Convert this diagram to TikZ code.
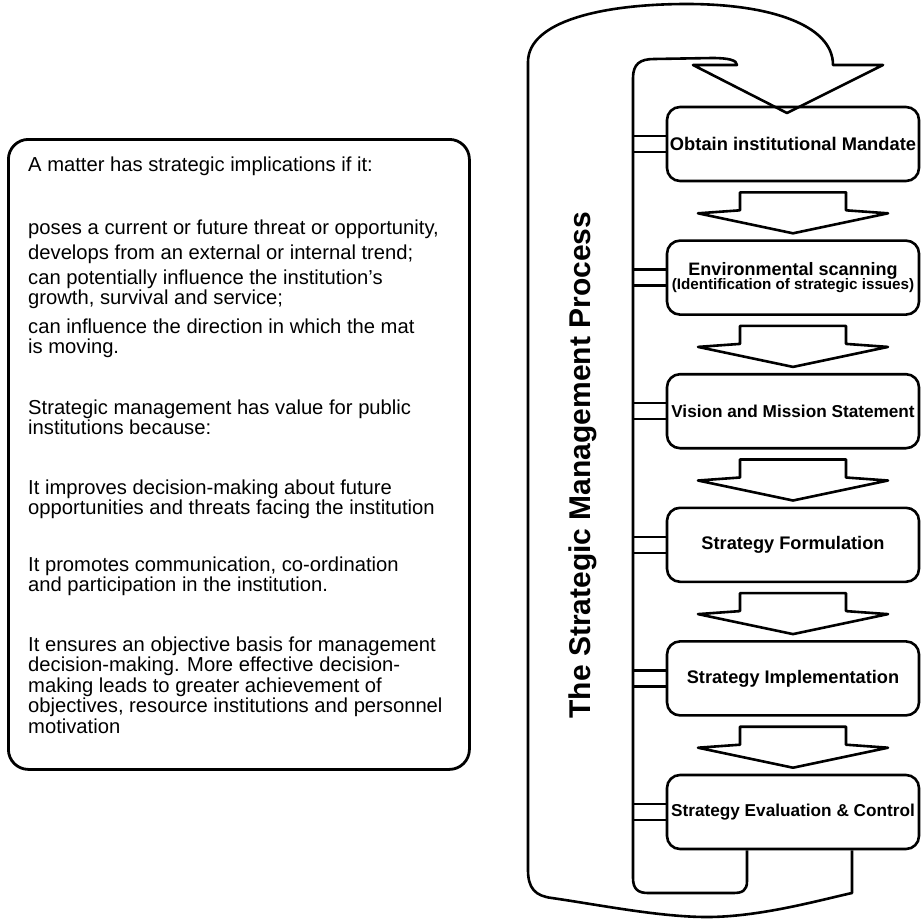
\documentclass[tikz,border=0pt]{standalone}
\usepackage{fontspec}
\setmainfont{Liberation Sans}
\usetikzlibrary{calc}
\newcommand\tightlines{\lineskiplimit=-20pt\relax}
\newcommand\stepsize[1]{\fontsize{#1}{14}\selectfont}
\begin{document}
\begin{tikzpicture}[x=1pt,y=-1pt,line join=round,
  outline/.style={line width=2.6pt},
  stub/.style={line width=2.3pt},
  stepbox/.style={draw,line width=2.6pt,rounded corners=13pt,fill=white,
    minimum width=252pt,minimum height=74pt,inner sep=0pt,align=center,
    font={\fontsize{18.2}{14}\selectfont\bfseries\tightlines}},
  infobox/.style={draw,line width=2.8pt,rounded corners=20pt,inner sep=0pt,
    minimum width=461pt,minimum height=630pt,anchor=north west},
  flowarrow/.style={outline,fill=white}]
\useasboundingbox (0,0) rectangle (921,919);

% explanatory text panel
\node[infobox] (info) at (7,138) {};
\node[anchor=base west,inner sep=0pt] (infotext) at (28,171)
  {\parbox[t]{445pt}{\raggedright\fontsize{20.2}{20.5}\selectfont\tightlines
   A matter has strategic implications if it:\\[42.5pt]
   poses a current or future threat or opportunity,\\[4.5pt]
   develops from an external or internal trend;\\[4.5pt]
   can potentially influence the institution's\\
   growth, survival and service;\\[8pt]
   can influence the direction in which the mat\\
   is moving.\\[40pt]
   Strategic management has value for public\\
   institutions because:\\[39pt]
   It improves decision-making about future\\
   opportunities and threats facing the institution\\[36pt]
   It promotes communication, co-ordination\\
   and participation in the institution.\\[39pt]
   It ensures an objective basis for management\\
   decision-making. More effective decision-\\
   making leads to greater achievement of\\
   objectives, resource institutions and personnel\\
   motivation}};

% process steps
\node[stepbox,font={\stepsize{18.3}\bfseries}] (b1) at (793,144.0) {Obtain institutional Mandate};
\node[stepbox,font={\stepsize{18}\bfseries\tightlines}] (b2) at (793,277.6)
  {Environmental scanning\\{\fontsize{15.2}{14}\selectfont (Identification of strategic issues)}};
\node[stepbox,font={\stepsize{17.2}\bfseries}] (b3) at (793,411.2) {Vision and Mission Statement};
\node[stepbox] (b4) at (793,544.8) {Strategy Formulation};
\node[stepbox] (b5) at (793,678.4) {Strategy Implementation};
\node[stepbox,font={\stepsize{17.2}\bfseries}] (b6) at (793,812.0) {Strategy Evaluation \& Control};

% block arrows between consecutive steps
\foreach \a in {b1,b2,b3,b4,b5}{
  \draw[flowarrow] ($(\a.south)+(-53,10)$) -- ++(106,0) -- ++(0,18) -- ++(42,3)
    -- ($(\a.south)+(0,51)$) -- ($(\a.south)+(-95,31)$) -- ++(42,-3) -- cycle;
}

% feedback loop returning from the last step to the first
\draw[outline] ($(b6.south)+(-46,0)$) -- (747,881)
  .. controls (747,891) and (742,893) .. (733,893) -- (648,893)
  .. controls (638,893) and (633,889) .. (633,878) -- (633,78)
  .. controls (633,64) and (640,59) .. (654,59) -- (712,58)
  .. controls (728,58) and (737,60) .. (737,65)
  -- (693,65) -- (787,113) -- (883,65) -- (833,65)
  .. controls (833,25) and (770,4) .. (687,4)
  .. controls (600,4) and (528,22) .. (528,62) -- (528,870)
  .. controls (528,888) and (535,896) .. (552,898)
  .. controls (600,905) and (660,917) .. (707,917)
  .. controls (760,917) and (820,900) .. (852,893)
  -- ($(b6.south)+(59,0)$);

% stubs joining the loop to each step
\foreach \b in {b1,b2,b3,b4,b5,b6}{
  \draw[stub] ($(\b.west)+(0,-8)$) -- ++(-34,0);
  \draw[stub] ($(\b.west)+(0,8)$) -- ++(-34,0);
}

% title along the loop
\node[rotate=90,anchor=base,inner sep=0pt,font=\fontsize{30}{30}\selectfont\bfseries]
  (title) at (590,465) {The Strategic Management Process};
\end{tikzpicture}
\end{document}
